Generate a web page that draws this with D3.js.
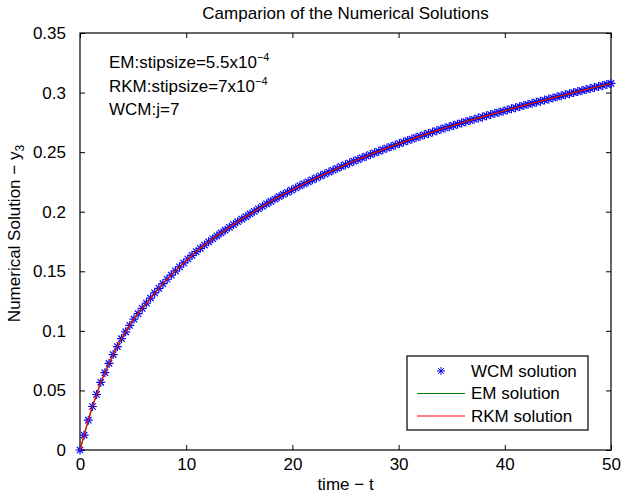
<!DOCTYPE html>
<html>
<head>
<meta charset="utf-8">
<script src="https://cdn.jsdelivr.net/npm/d3@7"></script>
<style>
  body { margin: 0; background: #fff; }
  svg { font-family: "Liberation Sans", Arial, Helvetica, sans-serif; }
  .axis text { font-size: 17px; fill: #000; }
  .axis line { stroke: #000; stroke-width: 1; }
  .axis path { display: none; }
</style>
</head>
<body>
<div class="content"></div>
<script>
// WCM solution sampled at 2^7 intervals over [0, 50]
const tStart = 0;
const tEnd = 50;
const nIntervals = 128;

const solution = [
  0, 0.0125, 0.025, 0.0365, 0.0466, 0.0568, 0.0649, 0.0727, 0.0801, 0.0868,
  0.0934, 0.0992, 0.1046, 0.1099, 0.1144, 0.1189, 0.1233, 0.1275, 0.1318, 0.1357,
  0.1396, 0.1433, 0.1468, 0.1504, 0.1537, 0.157, 0.1603, 0.1634, 0.1665, 0.1693,
  0.172, 0.1747, 0.1773, 0.1798, 0.1822, 0.1845, 0.1869, 0.1892, 0.1916, 0.1938,
  0.1959, 0.1981, 0.2002, 0.2024, 0.2045, 0.2066, 0.2086, 0.2106, 0.2126, 0.2145,
  0.2163, 0.2181, 0.2199, 0.2217, 0.2234, 0.2251, 0.2268, 0.2284, 0.2301, 0.2317,
  0.2333, 0.2348, 0.2364, 0.2379, 0.2394, 0.2409, 0.2424, 0.2438, 0.2452, 0.2466,
  0.248, 0.2494, 0.2507, 0.2521, 0.2534, 0.2547, 0.256, 0.2572, 0.2585, 0.2598,
  0.261, 0.2622, 0.2634, 0.2646, 0.2657, 0.2669, 0.268, 0.2692, 0.2703, 0.2713,
  0.2724, 0.2735, 0.2745, 0.2756, 0.2766, 0.2776, 0.2786, 0.2796, 0.2806, 0.2816,
  0.2826, 0.2835, 0.2844, 0.2854, 0.2864, 0.2873, 0.2883, 0.2892, 0.2901, 0.291,
  0.2919, 0.2928, 0.2937, 0.2946, 0.2955, 0.2964, 0.2973, 0.2982, 0.2991, 0.3,
  0.3008, 0.3017, 0.3025, 0.3034, 0.3043, 0.3051, 0.306, 0.3068, 0.3077
];

const xTicks = [0, 10, 20, 30, 40, 50];
const yTicks = [0, 0.05, 0.1, 0.15, 0.2, 0.25, 0.3, 0.35];
const legendLabels = ["WCM solution", "EM solution", "RKM solution"];

const W = 621, H = 494;
const margin = { top: 33, right: 10, bottom: 44, left: 80 };
const width = W - margin.left - margin.right;
const height = H - margin.top - margin.bottom;

const step = (tEnd - tStart) / nIntervals;
const data = solution.map((v, i) => ({ t: tStart + i * step, v: v }));

const xScale = d3.scaleLinear().domain([0, 50]).range([0, width]);
const yScale = d3.scaleLinear().domain([0, 0.35]).range([height, 0]);

const svg = d3
  .select(".content")
  .append("svg")
  .attr("width", W)
  .attr("height", H);

const g = svg
  .append("g")
  .attr("transform", `translate(${margin.left}, ${margin.top})`);

//--> axes, ticks pointing inward
g.append("g")
  .attr("class", "axis")
  .attr("transform", `translate(0, ${height})`)
  .call(d3.axisBottom(xScale).tickValues(xTicks).tickSize(-5).tickSizeOuter(0).tickPadding(8));

g.append("g")
  .attr("class", "axis")
  .call(d3.axisTop(xScale).tickValues(xTicks).tickSize(-5).tickSizeOuter(0).tickFormat(""));

g.append("g")
  .attr("class", "axis")
  .call(
    d3.axisLeft(yScale).tickValues(yTicks).tickSize(-5).tickSizeOuter(0).tickPadding(14)
      .tickFormat(d => (d === 0 ? "0" : d3.format(".2~f")(d)))
  );

g.append("g")
  .attr("class", "axis")
  .attr("transform", `translate(${width}, 0)`)
  .call(d3.axisRight(yScale).tickValues(yTicks).tickSize(-5).tickSizeOuter(0).tickFormat(""));

//--> frame
g.append("rect")
  .attr("width", width)
  .attr("height", height)
  .attr("fill", "none")
  .attr("stroke", "#000")
  .attr("stroke-width", 1.2);

//--> star marker
const starPath = r => {
  const d = r * 0.7071;
  return `M${-r},0L${r},0M0,${-r}L0,${r}M${-d},${-d}L${d},${d}M${-d},${d}L${d},${-d}`;
};

g.append("g")
  .selectAll("path")
  .data(data)
  .enter()
  .append("path")
  .attr("transform", d => `translate(${xScale(d.t)}, ${yScale(d.v)})`)
  .attr("d", starPath(4.5))
  .attr("fill", "none")
  .attr("stroke", "#0000ff")
  .attr("stroke-width", 1.2);

const line = d3.line().x(d => xScale(d.t)).y(d => yScale(d.v));

g.append("path")
  .datum(data)
  .attr("d", line)
  .attr("fill", "none")
  .attr("stroke", "#008000")
  .attr("stroke-width", 1.2);

g.append("path")
  .datum(data)
  .attr("d", line)
  .attr("fill", "none")
  .attr("stroke", "#ff0000")
  .attr("stroke-width", 1.2);

//--> title and labels
svg.append("text")
  .attr("x", margin.left + width / 2)
  .attr("y", 19)
  .attr("text-anchor", "middle")
  .style("font-size", "17px")
  .text("Camparion of the Numerical Solutions");

svg.append("text")
  .attr("x", margin.left + width / 2)
  .attr("y", 490)
  .attr("text-anchor", "middle")
  .style("font-size", "17px")
  .text("time \u2212 t");

const yLabel = svg.append("text")
  .attr("transform", `translate(20, ${margin.top + height / 2 - 8}) rotate(-90)`)
  .attr("text-anchor", "middle")
  .style("font-size", "17px");
yLabel.append("tspan").text("Numerical Solution \u2212 y");
yLabel.append("tspan").attr("dy", 4).style("font-size", "12px").text("3");

//--> annotation
const notes = [
  ["EM:stipsize=5.5x10", "\u22124"],
  ["RKM:stipsize=7x10", "\u22124"],
  ["WCM:j=7", ""]
];
notes.forEach((n, i) => {
  const t = svg.append("text")
    .attr("x", 109)
    .attr("y", 68 + i * 23.5)
    .style("font-size", "17px");
  t.append("tspan").text(n[0]);
  if (n[1]) t.append("tspan").attr("dy", -7).style("font-size", "11px").text(n[1]);
});

//--> legend
const legend = svg.append("g").attr("transform", "translate(407, 356)");
legend.append("rect")
  .attr("width", 181)
  .attr("height", 74)
  .attr("fill", "#fff")
  .attr("stroke", "#000")
  .attr("stroke-width", 1.2);

legend.append("path")
  .attr("transform", "translate(34, 15)")
  .attr("d", starPath(4))
  .attr("fill", "none")
  .attr("stroke", "#0000ff");

legend.append("line")
  .attr("x1", 10).attr("x2", 58).attr("y1", 37.5).attr("y2", 37.5)
  .attr("stroke", "#008000");

legend.append("line")
  .attr("x1", 10).attr("x2", 58).attr("y1", 60).attr("y2", 60)
  .attr("stroke", "#ff0000");

legend.selectAll(".legend-text")
  .data(legendLabels)
  .enter()
  .append("text")
  .attr("class", "legend-text")
  .attr("x", 64)
  .attr("y", (d, i) => 20.5 + i * 22.7)
  .style("font-size", "17px")
  .text(d => d);
</script>
</body>
</html>
